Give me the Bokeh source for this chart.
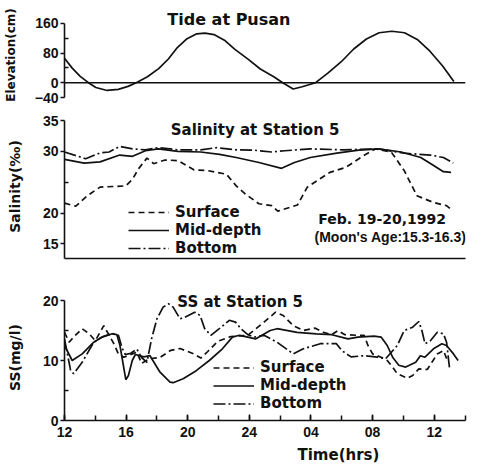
from bokeh.plotting import figure
from bokeh.layouts import column
from bokeh.models import (Range1d, FixedTicker, Span, Legend, LegendItem, Label, Title)
from bokeh.embed import file_html
from bokeh.resources import INLINE

# ---------------- data ----------------
tide_hr = [12.0, 12.5, 13.05, 13.6, 14.1, 14.85, 15.6, 16.25, 16.8, 17.55, 18.3, 18.95, 19.55,
           20.2, 20.85, 21.4, 22.0, 22.7, 23.4, 24.3, 25.1, 26.0, 26.6, 27.3, 27.9, 28.8, 29.6,
           30.5, 31.35, 32.2, 33.05, 33.9, 34.75, 35.6, 36.45, 37.3, 38.05]
tide_cm = [66, 40, 17, 0, -13, -21, -18, -10, 0, 16, 38, 64, 95, 119, 132, 134, 130, 115, 90,
           63, 37, 16, 0, -17, -11, 0, 25, 56, 91, 118, 135, 139, 135, 117, 85, 45, 3]

sal_surf_hr = [12.0, 12.75, 13.5, 14.35, 15.2, 16.05, 16.5, 16.9, 17.45, 17.9, 18.65, 19.5,
               20.55, 21.4, 22.7, 23.35, 24.0, 24.85, 25.7, 26.1, 27.4, 28.05, 29.55, 30.6,
               31.7, 32.55, 33.6, 34.45, 35.3, 36.4, 37.25, 37.55]
sal_surf = [21.6, 21.1, 22.8, 24.2, 24.3, 24.4, 25.5, 27.2, 28.9, 28.0, 28.6, 28.5, 27.0, 26.9,
            26.3, 24.4, 23.0, 21.5, 21.2, 20.3, 21.3, 24.2, 26.6, 27.4, 29.2, 30.4, 29.9, 26.9,
            22.8, 21.7, 21.2, 20.6]
sal_mid_hr = [12.0, 13.3, 14.35, 15.65, 16.5, 17.35, 18.2, 19.5, 21.0, 22.25, 23.35, 24.85,
              26.35, 27.2, 28.25, 30.0, 31.45, 32.75, 34.25, 35.55, 36.4, 37.05, 37.55]
sal_mid = [28.7, 28.1, 28.3, 29.4, 29.2, 30.1, 30.4, 30.0, 29.9, 29.5, 29.0, 28.2, 27.25, 28.2,
           29.0, 29.7, 30.2, 30.4, 29.9, 29.0, 27.7, 26.7, 26.6]
sal_bot_hr = [12.0, 13.4, 14.35, 14.95, 15.65, 16.5, 17.35, 18.2, 19.5, 21.0, 22.05, 23.35,
              24.5, 25.7, 26.55, 28.25, 30.4, 32.75, 34.45, 36.2, 37.05, 37.7]
sal_bot = [29.9, 28.8, 29.75, 29.9, 30.8, 30.4, 30.25, 30.6, 30.25, 30.25, 30.6, 30.25, 30.2,
           29.9, 30.1, 30.4, 30.25, 30.4, 29.7, 29.4, 29.0, 28.1]

ss_surf_hr = [12.0, 12.3, 12.7, 13.15, 13.6, 14.0, 14.55, 15.2, 15.5, 15.85, 16.4, 16.7, 17.0,
              17.5, 18.2, 18.9, 19.5, 20.4, 20.85, 21.3, 21.95, 22.8, 23.9, 24.95, 25.7, 26.2,
              26.85, 27.5, 28.25, 28.8, 29.35, 29.75, 30.2, 31.0, 31.45, 31.7, 32.0, 32.55,
              32.95, 33.3, 33.6, 34.25, 34.6, 35.0, 35.55, 35.85, 36.2, 36.6, 36.9]
ss_surf = [14.7, 13.05, 14.2, 15.3, 14.45, 13.3, 15.8, 12.8, 11.1, 10.55, 11.1, 11.4, 9.5, 10.3,
           10.5, 11.7, 12.0, 11.1, 10.4, 11.5, 13.2, 14.0, 14.2, 16.4, 18.05, 17.5, 15.8, 15.0,
           15.4, 14.7, 14.3, 15.0, 14.3, 14.2, 14.2, 12.5, 11.1, 10.55, 10.0, 8.9, 7.8, 7.05,
           7.5, 8.6, 8.5, 9.7, 11.1, 11.65, 9.7]
ss_mid_hr = [12.0, 12.5, 13.15, 13.9, 14.45, 15.1, 15.4, 15.6, 15.8, 15.98, 16.15, 16.4, 16.6,
             17.15, 17.55, 18.2, 18.85, 19.05, 19.7, 20.55, 21.4, 22.25, 22.9, 23.35, 23.9, 24.4,
             25.35, 25.8, 27.1, 28.35, 29.35, 30.4, 31.05, 32.1, 32.55, 32.95, 33.3, 33.7,
             34.15, 34.8, 35.1, 35.4, 35.95, 36.5, 36.8, 37.25, 37.55]
ss_mid = [12.5, 10.0, 11.1, 13.05, 13.9, 14.45, 14.3, 12.5, 9.5, 6.8, 7.5, 10.0, 11.0, 10.6,
          10.8, 8.05, 6.4, 6.3, 6.95, 8.3, 10.0, 11.95, 13.9, 14.2, 13.9, 13.6, 15.0, 15.3, 14.7,
          14.45, 14.3, 13.6, 13.9, 14.05, 13.9, 12.5, 10.55, 9.2, 8.9, 9.7, 10.8, 10.55, 11.95,
          12.8, 12.5, 11.1, 10.0]
ss_bot_hr = [12.0, 12.4, 12.6, 13.15, 13.9, 14.5, 15.1, 15.5, 15.75, 15.95, 16.3, 16.7, 17.0,
             17.35, 17.65, 18.0, 18.4, 18.75, 19.05, 19.5, 19.8, 20.45, 20.8, 21.1, 21.5, 22.05,
             22.7, 23.1, 23.45, 23.9, 24.3, 24.95, 25.8, 26.85, 27.5, 28.6, 29.65, 30.0, 30.6,
             31.45, 32.3, 32.85, 33.6, 34.05, 34.6, 35.0, 35.2, 35.4, 35.75, 36.2, 36.6, 36.8,
             36.95, 37.0]
ss_bot = [13.6, 8.3, 7.8, 9.7, 13.05, 14.0, 14.5, 14.2, 12.0, 11.0, 11.2, 11.9, 10.5, 9.7, 13.6,
          16.95, 18.9, 19.45, 18.9, 16.95, 17.2, 18.05, 17.5, 15.3, 14.2, 15.3, 16.7, 16.4, 15.3,
          14.3, 13.9, 14.2, 13.05, 11.1, 11.95, 12.8, 12.8, 11.65, 10.6, 10.8, 10.55, 10.3, 12.5,
          15.0, 15.55, 16.5, 15.0, 12.8, 13.3, 14.7, 14.45, 13.05, 9.7, 8.6]

time_ticks = [12, 16, 20, 24, 28, 32, 36]
time_labels = ["12", "16", "20", "24", "04", "08", "12"]
series_names = ["Surface", "Mid-depth", "Bottom"]

# ---------------- style ----------------
TICKFONT = "Liberation Sans"
FONT = "DejaVu Sans"
INK = "#111111"
LW = 1.7
DASH_SURF = "6 4"
DASH_BOT = "12 3 2 3"


def base_fig(height, frame_w, top, bottom, x_end, y_range):
    p = figure(width=481, height=height, title=None, toolbar_location=None,
               output_backend="svg", min_border_left=60, min_border_right=481 - 60 - frame_w,
               min_border_top=top, min_border_bottom=bottom,
               x_range=Range1d(12, x_end), y_range=Range1d(*y_range))
    p.outline_line_color = None
    p.xgrid.visible = False
    p.ygrid.visible = False
    p.background_fill_color = "white"
    p.border_fill_color = "white"
    return p


def style_yaxis(ax, ticks, minor, bounds, label, standoff, label_size):
    ax.ticker = FixedTicker(ticks=ticks, minor_ticks=minor)
    ax.bounds = bounds
    ax.axis_label = label
    ax.axis_label_text_font = FONT
    ax.axis_label_text_font_style = "bold"
    ax.axis_label_text_font_size = label_size
    ax.axis_label_text_color = INK
    ax.axis_label_standoff = standoff
    ax.major_label_text_font = TICKFONT
    ax.major_label_text_font_style = "bold"
    ax.major_label_text_font_size = "14px"
    ax.major_label_text_color = INK
    ax.major_label_standoff = 2
    ax.major_tick_out = 4
    ax.major_tick_in = 0
    ax.minor_tick_in = 4
    ax.minor_tick_out = 0
    ax.axis_line_width = 1.6
    ax.axis_line_color = INK
    ax.major_tick_line_color = INK
    ax.minor_tick_line_color = INK
    ax.major_tick_line_width = 1.5
    ax.minor_tick_line_width = 1.5


def add_text(p, text, x, y, size="15px", font=FONT):
    p.add_layout(Label(x=x, y=y, text=text, text_align="center", text_baseline="middle",
                       text_font=font, text_font_style="bold", text_font_size=size,
                       text_color=INK))


def add_legend(p, renderers, x, y, row_h):
    items = [LegendItem(label=n, renderers=[r]) for n, r in zip(series_names, renderers)]
    lg = Legend(items=items, location=(x, y), glyph_width=41, glyph_height=row_h,
                label_height=row_h, label_standoff=6, spacing=0, padding=0, margin=0,
                border_line_alpha=0, background_fill_alpha=0,
                label_text_font=FONT, label_text_font_style="bold",
                label_text_font_size="15px", label_text_color=INK)
    p.add_layout(lg)


# ---------------- top: tide ----------------
p1 = base_fig(107, 418, 12, 10, 12 + 418 / 15.58, (-40, 189.7))
p1.xaxis.visible = False
style_yaxis(p1.yaxis[0], [-40, 0, 80, 160], [40, 120], (-40, 160), "Elevation(cm)", 14, "12px")
p1.add_layout(Span(location=0, dimension="width", line_color=INK, line_width=1.6))
p1.line(tide_hr, tide_cm, line_color=INK, line_width=LW)
add_text(p1, "Tide at Pusan", 23.0, 172, "16px")

# ---------------- middle: salinity ----------------
p2 = base_fig(163, 413, 7, 12, 12 + 413 / 15.58, (12.62, 35.98))
style_yaxis(p2.yaxis[0], [15, 20, 30, 35], [25], (12.62, 35), "Salinity(\u2030)", 17, "14px")
xa = p2.xaxis[0]
xa.ticker = FixedTicker(ticks=[])
xa.major_label_text_font_size = "0px"
xa.major_tick_out = 0
xa.axis_line_width = 1.6
xa.axis_line_color = INK
r2s = p2.line(sal_surf_hr, sal_surf, line_color=INK, line_width=LW, line_dash=DASH_SURF)
r2m = p2.line(sal_mid_hr, sal_mid, line_color=INK, line_width=LW)
r2b = p2.line(sal_bot_hr, sal_bot, line_color=INK, line_width=LW, line_dash=DASH_BOT)
add_text(p2, "Salinity at Station 5", 24.6, 33.4)
add_legend(p2, [r2s, r2m, r2b], 64, 1, 14)
add_text(p2, "Feb. 19-20,1992", 33.0, 19.0, "14px")
add_text(p2, "(Moon's Age:15.3-16.3)", 33.55, 16.1, "14px", TICKFONT)

# ---------------- bottom: SS ----------------
p3 = base_fig(197, 405, 24, 47, 38.03, (0, 21))
style_yaxis(p3.yaxis[0], [0, 10, 20], [5, 15], (0, 20), "SS(mg/l)", 17, "14px")
xb = p3.xaxis[0]
xb.ticker = FixedTicker(ticks=time_ticks, minor_ticks=list(range(12, 39, 2)))
xb.major_label_overrides = {t: s for t, s in zip(time_ticks, time_labels)}
xb.major_label_text_font = TICKFONT
xb.major_label_text_font_style = "bold"
xb.major_label_text_font_size = "14px"
xb.major_label_text_color = INK
xb.major_label_standoff = 6
xb.major_tick_in = 6
xb.major_tick_out = 0
xb.minor_tick_in = 5
xb.minor_tick_out = 0
xb.axis_line_width = 1.6
xb.axis_line_color = INK
xb.major_tick_line_color = INK
xb.minor_tick_line_color = INK
xb.major_tick_line_width = 1.5
xb.minor_tick_line_width = 1.5
r3s = p3.line(ss_surf_hr, ss_surf, line_color=INK, line_width=LW, line_dash=DASH_SURF)
r3m = p3.line(ss_mid_hr, ss_mid, line_color=INK, line_width=LW)
r3b = p3.line(ss_bot_hr, ss_bot, line_color=INK, line_width=LW, line_dash=DASH_BOT)
add_text(p3, "SS at Station 5", 23.4, 19.7)
add_legend(p3, [r3s, r3m, r3b], 149, 8, 17)
p3.add_layout(Title(text="Time(hrs)", align="left", offset=233, standoff=8,
                    text_font=FONT, text_font_style="bold", text_font_size="15px",
                    text_color=INK), "below")

layout = column(p1, p2, p3, spacing=0)
open("out.html", "w").write(file_html(layout, INLINE))
